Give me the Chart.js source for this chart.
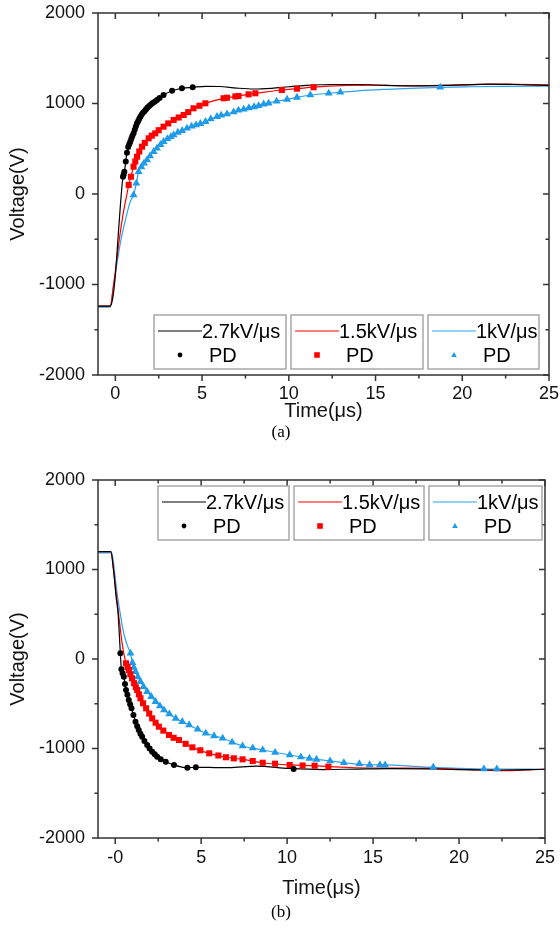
<!DOCTYPE html>
<html>
<head>
<meta charset="utf-8">
<script src="https://cdn.jsdelivr.net/npm/chart.js@4.4.1/dist/chart.umd.min.js"></script>
<style>
  body { margin: 0; background: #fff; width: 560px; height: 935px; position: relative; overflow: hidden; }
  canvas { position: absolute; left: 0; }
  #chartA { top: 0; }
  #chartB { top: 465px; }
  .cap { position: absolute; left: 0; width: 562px; text-align: center; font: 17px "Liberation Serif", "Times New Roman", serif; color: #000; }
</style>
</head>
<body>
<canvas id="chartA" width="560" height="425"></canvas>
<div class="cap" style="top:422px">(a)</div>
<canvas id="chartB" width="560" height="440"></canvas>
<div class="cap" style="top:902px">(b)</div>
<script>
// axis ticks
const xTickValues = [0, 5, 10, 15, 20, 25];
const xTickLabelsA = ['0', '5', '10', '15', '20', '25'];
const xTickLabelsB = ['-0', '5', '10', '15', '20', '25'];
const xMinorTicks = [2.5, 7.5, 12.5, 17.5, 22.5];
const yTickValues = [-2000, -1000, 0, 1000, 2000];
const yTickLabels = ['-2000', '-1000', '0', '1000', '2000'];
const yMinorTicks = [-1500, -500, 500, 1500];
const seriesNames = ['2.7kV/\u03bcs', '1.5kV/\u03bcs', '1kV/\u03bcs'];

// (a) rising edge - voltage curves
const timeA27 = [-1, -0.3, -0.15, 0, 0.15, 0.3, 0.44, 0.52, 0.67, 0.86, 1.05, 1.25, 1.44, 1.7, 2.0, 2.4, 2.78, 3.27, 3.84, 4.46, 5.2, 6.0, 7.0, 8.0, 9.0, 10.0, 11.0, 12.5, 14.0, 15.5, 17.0, 18.5, 20.0, 21.5, 23.0, 25];
const voltA27 = [-1240, -1240, -1150, -900, -500, -100, 191, 246, 456, 578, 671, 781, 854, 925, 983, 1039, 1094, 1141, 1168, 1179, 1190, 1188, 1170, 1160, 1168, 1185, 1200, 1210, 1210, 1200, 1195, 1198, 1205, 1215, 1210, 1200];
const timeA15 = [-1, -0.3, -0.1, 0.1, 0.23, 0.45, 0.67, 0.77, 0.9, 1.05, 1.25, 1.54, 1.92, 2.3, 2.78, 3.36, 3.94, 4.51, 5.19, 6.3, 7.0, 7.6, 8.1, 9.6, 10.5, 11.4, 13.0, 15.0, 17.0, 19.0, 21.0, 22.5, 25];
const voltA15 = [-1240, -1240, -1000, -700, -500, -220, 0, 100, 191, 302, 412, 523, 615, 670, 744, 818, 873, 947, 1002, 1060, 1078, 1101, 1113, 1149, 1164, 1180, 1198, 1202, 1196, 1200, 1212, 1215, 1205];
const timeA1 = [-1, -0.3, -0.1, 0.1, 0.33, 0.6, 0.85, 1.05, 1.21, 1.34, 1.6, 1.83, 2.21, 2.78, 3.36, 4.13, 4.9, 5.86, 6.82, 7.59, 8.55, 9.9, 10.47, 11.24, 12.3, 12.97, 14.0, 15.66, 17.0, 18.73, 20.5, 22.5, 25];
const voltA1 = [-1250, -1250, -1000, -760, -500, -270, -90, -11, 118, 246, 320, 376, 468, 578, 652, 726, 777, 855, 906, 950, 995, 1046, 1068, 1094, 1113, 1124, 1140, 1157, 1168, 1179, 1185, 1190, 1193];

// (a) PD points
const pdTimeA27 = [0.44, 0.48, 0.52, 0.6, 0.67, 0.74, 0.8, 0.86, 0.92, 0.98, 1.05, 1.12, 1.18, 1.25, 1.32, 1.38, 1.44, 1.52, 1.6, 1.68, 1.76, 1.85, 1.95, 2.05, 2.15, 2.27, 2.4, 2.55, 2.78, 3.27, 3.84, 4.46];
const pdVoltA27 = [191, 215, 246, 360, 456, 520, 550, 578, 610, 640, 671, 710, 745, 781, 808, 832, 854, 878, 900, 915, 935, 955, 972, 990, 1005, 1020, 1039, 1060, 1094, 1141, 1168, 1179];
const pdTimeA15 = [0.77, 0.9, 1.05, 1.15, 1.25, 1.38, 1.54, 1.7, 1.92, 2.1, 2.3, 2.5, 2.78, 3.05, 3.36, 3.65, 3.94, 4.2, 4.51, 4.85, 5.19, 6.24, 6.44, 6.92, 7.1, 7.68, 8.07, 9.6, 10.47, 11.43];
const pdVoltA15 = [100, 191, 302, 360, 412, 470, 523, 565, 615, 645, 670, 705, 744, 780, 818, 845, 873, 905, 947, 975, 1002, 1058, 1064, 1078, 1083, 1101, 1113, 1149, 1164, 1180];
const pdTimeA1 = [1.05, 1.21, 1.34, 1.5, 1.65, 1.83, 2.0, 2.21, 2.4, 2.6, 2.78, 3.0, 3.2, 3.36, 3.6, 3.85, 4.13, 4.4, 4.65, 4.9, 5.2, 5.5, 5.86, 6.1, 6.44, 6.82, 7.1, 7.4, 7.7, 8.0, 8.26, 8.55, 8.84, 9.3, 9.9, 10.47, 11.24, 12.3, 12.97, 18.73];
const pdVoltA1 = [-11, 118, 246, 300, 340, 376, 420, 468, 505, 545, 578, 610, 632, 652, 680, 700, 726, 748, 762, 777, 800, 828, 855, 870, 884, 906, 925, 936, 952, 962, 975, 992, 1002, 1025, 1046, 1068, 1094, 1113, 1124, 1179];

// (b) falling edge - voltage curves
const timeB27 = [-1, -0.25, -0.1, 0.05, 0.17, 0.3, 0.36, 0.5, 0.63, 0.79, 0.95, 1.18, 1.37, 1.57, 1.86, 2.15, 2.44, 2.94, 3.42, 4.2, 4.69, 5.5, 6.6, 8.2, 10.1, 12.1, 14, 16, 18, 20, 22, 25];
const voltB27 = [1200, 1200, 1000, 700, 500, 64, -115, -197, -346, -458, -551, -700, -793, -868, -961, -1036, -1092, -1148, -1184, -1214, -1210, -1212, -1214, -1196, -1222, -1235, -1230, -1225, -1228, -1235, -1240, -1232];
const timeB15 = [-1, -0.25, -0.1, 0.05, 0.2, 0.4, 0.63, 0.79, 0.98, 1.28, 1.47, 1.8, 2.15, 2.54, 3.13, 3.71, 4.49, 5.47, 6.44, 7.41, 8.58, 10.15, 11.6, 12.4, 14, 16, 18.5, 20.5, 22.4, 25];
const voltB15 = [1200, 1200, 1000, 750, 500, 180, -48, -123, -216, -346, -439, -551, -663, -756, -849, -905, -987, -1054, -1098, -1121, -1159, -1184, -1192, -1203, -1215, -1220, -1221, -1235, -1248, -1232];
const timeB1 = [-1, -0.2, -0.05, 0.1, 0.3, 0.45, 0.6, 0.75, 0.89, 1.0, 1.18, 1.47, 1.86, 2.35, 2.84, 3.52, 4.3, 5.27, 6.25, 7.41, 8.58, 10.15, 11.3, 11.71, 13.3, 14.8, 15.4, 18.5, 21.45, 22.2, 25];
const voltB1 = [1185, 1185, 1000, 750, 500, 330, 212, 130, 64, -40, -142, -253, -365, -477, -570, -663, -737, -830, -886, -972, -1017, -1073, -1110, -1121, -1159, -1184, -1184, -1210, -1229, -1229, -1232];

// (b) PD points
const pdTimeB27 = [0.3, 0.36, 0.43, 0.5, 0.57, 0.63, 0.71, 0.79, 0.87, 0.95, 1.06, 1.18, 1.28, 1.37, 1.47, 1.57, 1.7, 1.86, 2.0, 2.15, 2.3, 2.44, 2.65, 2.94, 3.42, 4.2, 4.69, 10.38];
const pdVoltB27 = [64, -115, -160, -197, -280, -346, -400, -458, -505, -551, -625, -700, -750, -793, -835, -868, -915, -961, -1000, -1036, -1065, -1092, -1120, -1148, -1184, -1214, -1210, -1229];
const pdTimeB15 = [0.63, 0.72, 0.79, 0.88, 0.98, 1.1, 1.2, 1.28, 1.38, 1.47, 1.62, 1.8, 1.98, 2.15, 2.35, 2.54, 2.8, 3.13, 3.4, 3.71, 4.1, 4.49, 4.95, 5.47, 6.0, 6.44, 6.9, 7.41, 8.0, 8.58, 9.3, 10.15, 10.9, 11.6, 12.4];
const pdVoltB15 = [-48, -90, -123, -170, -216, -270, -315, -346, -395, -439, -495, -551, -610, -663, -712, -756, -800, -849, -880, -905, -948, -987, -1020, -1054, -1078, -1098, -1110, -1121, -1140, -1159, -1170, -1184, -1190, -1192, -1203];
const pdTimeB1 = [0.89, 1.0, 1.08, 1.18, 1.32, 1.47, 1.65, 1.86, 2.1, 2.35, 2.6, 2.84, 3.15, 3.52, 3.9, 4.3, 4.8, 5.27, 5.75, 6.25, 6.8, 7.41, 8.0, 8.58, 9.3, 10.15, 10.8, 11.3, 11.71, 12.5, 13.3, 14.2, 14.8, 15.4, 15.7, 18.5, 21.45, 22.2];
const pdVoltB1 = [64, -40, -95, -142, -200, -253, -310, -365, -420, -477, -525, -570, -615, -663, -700, -737, -785, -830, -860, -886, -930, -972, -995, -1017, -1045, -1073, -1095, -1110, -1121, -1140, -1159, -1172, -1184, -1184, -1186, -1210, -1229, -1229];

const lineColors = ['#000000', '#ff0000', '#2ba3f2'];
const markColors = ['#000000', '#ff0000', '#1e9ae8'];
const markStyles = ['circle', 'rect', 'triangle'];
const markRadius = [3, 4.3, 4.6];
const FONT = '"Liberation Sans", Arial, sans-serif';

Chart.defaults.font.family = FONT;
Chart.defaults.color = '#111';

function pts(ts, vs) {
  return ts.map((t, i) => ({ x: t, y: vs[i] }));
}

// Origin-style frame with ticks: out on left/bottom, in on top/right
const frameTicks = {
  id: 'frameTicks',
  afterDatasetsDraw(chart) {
    const { ctx, chartArea: a, scales: { x, y } } = chart;
    ctx.save();
    ctx.strokeStyle = '#333';
    ctx.lineWidth = 1.5;
    ctx.strokeRect(a.left, a.top, a.right - a.left, a.bottom - a.top);
    ctx.beginPath();
    const xm = (v, len) => {
      const p = x.getPixelForValue(v);
      ctx.moveTo(p, a.bottom); ctx.lineTo(p, a.bottom + len);
      ctx.moveTo(p, a.top); ctx.lineTo(p, a.top + len);
    };
    const ym = (v, len) => {
      const p = y.getPixelForValue(v);
      ctx.moveTo(a.left, p); ctx.lineTo(a.left - len, p);
      ctx.moveTo(a.right, p); ctx.lineTo(a.right - len, p);
    };
    xTickValues.forEach(v => xm(v, 6));
    xMinorTicks.forEach(v => xm(v, 3.5));
    yTickValues.forEach(v => ym(v, 6));
    yMinorTicks.forEach(v => ym(v, 3.5));
    ctx.stroke();
    ctx.restore();
  }
};

function drawMark(ctx, style, x, y, r, color) {
  ctx.fillStyle = color;
  ctx.beginPath();
  if (style === 'circle') {
    ctx.arc(x, y, r, 0, Math.PI * 2);
  } else if (style === 'rect') {
    ctx.rect(x - r, y - r, r * 2, r * 2);
  } else {
    ctx.moveTo(x, y - r * 1.1);
    ctx.lineTo(x + r, y + r * 0.7);
    ctx.lineTo(x - r, y + r * 0.7);
    ctx.closePath();
  }
  ctx.fill();
}

// boxed two-row legends like the Origin plot
const boxLegend = {
  id: 'boxLegend',
  afterDraw(chart, args, opts) {
    const ctx = chart.ctx;
    ctx.save();
    opts.boxes.forEach((b, i) => {
      ctx.fillStyle = '#fff';
      ctx.fillRect(b.x, b.y, b.w, 54);
      ctx.strokeStyle = '#a8a8a8';
      ctx.lineWidth = 1.5;
      ctx.strokeRect(b.x, b.y, b.w, 54);
      ctx.strokeStyle = lineColors[i];
      ctx.lineWidth = 1.2;
      ctx.beginPath();
      ctx.moveTo(b.x + 4, b.y + 16);
      ctx.lineTo(b.x + 48, b.y + 16);
      ctx.stroke();
      drawMark(ctx, markStyles[i], b.x + 26, b.y + 40, i === 0 ? 2.4 : 2.8, markColors[i]);
      ctx.fillStyle = '#000';
      ctx.font = '20px ' + FONT;
      ctx.textBaseline = 'middle';
      ctx.textAlign = 'left';
      ctx.fillText(seriesNames[i], b.x + 48, b.y + 17);
      ctx.fillText('PD', b.x + 55, b.y + 41);
    });
    ctx.restore();
  }
};

function makeChart(id, curves, pds, xLabels, box, pad, xH, titlePad, tickPad) {
  const datasets = [];
  pds.forEach((p, i) => datasets.push({
    data: pts(p[0], p[1]),
    showLine: false,
    pointStyle: markStyles[i],
    pointRadius: markRadius[i],
    pointBackgroundColor: markColors[i],
    pointBorderWidth: 0,
    order: 0
  }));
  curves.forEach((c, i) => datasets.push({
    data: pts(c[0], c[1]),
    showLine: true,
    borderColor: lineColors[i],
    borderWidth: 1.2,
    pointRadius: 0,
    cubicInterpolationMode: 'monotone',
    order: 1
  }));
  return new Chart(document.getElementById(id), {
    type: 'scatter',
    data: { datasets },
    plugins: [frameTicks, boxLegend],
    options: {
      responsive: false,
      animation: false,
      events: [],
      layout: { padding: pad, autoPadding: false },
      plugins: {
        legend: { display: false },
        tooltip: { enabled: false },
        boxLegend: { boxes: box }
      },
      scales: {
        x: {
          type: 'linear', min: -1, max: 25,
          afterBuildTicks: s => { s.ticks = xTickValues.map(v => ({ value: v })); },
          afterFit: s => { s.height = xH; s.paddingLeft = 0; s.paddingRight = 0; },
          grid: { display: false, drawTicks: false },
          border: { display: false },
          ticks: { padding: tickPad, font: { size: 18 }, color: '#111', maxRotation: 0,
                   callback: (v, i) => xLabels[i] },
          title: { display: true, text: 'Time(\u03bcs)', font: { size: 20 }, color: '#111',
                   padding: { top: 0, bottom: titlePad } }
        },
        y: {
          type: 'linear', min: -2000, max: 2000,
          afterBuildTicks: s => { s.ticks = yTickValues.map(v => ({ value: v })); },
          afterFit: s => { s.width = 98; s.paddingTop = 0; s.paddingBottom = 0; },
          grid: { display: false, drawTicks: false },
          border: { display: false },
          ticks: { padding: 13, font: { size: 18 }, color: '#111',
                   callback: (v, i) => yTickLabels[i] },
          title: { display: true, text: 'Voltage(V)', font: { size: 20 }, color: '#111',
                   padding: { top: 6, bottom: 0 } }
        }
      }
    }
  });
}

makeChart('chartA',
  [[timeA27, voltA27], [timeA15, voltA15], [timeA1, voltA1]],
  [[pdTimeA27, pdVoltA27], [pdTimeA15, pdVoltA15], [pdTimeA1, pdVoltA1]],
  xTickLabelsA,
  [{ x: 154, y: 315, w: 132 }, { x: 291, y: 315, w: 132 }, { x: 428, y: 315, w: 111 }],
  { top: 13, right: 11, left: 0, bottom: 0 }, 50, 2, 8);

makeChart('chartB',
  [[timeB27, voltB27], [timeB15, voltB15], [timeB1, voltB1]],
  [[pdTimeB27, pdVoltB27], [pdTimeB15, pdVoltB15], [pdTimeB1, pdVoltB1]],
  xTickLabelsB,
  [{ x: 158, y: 21, w: 131 }, { x: 294, y: 21, w: 130 }, { x: 429, y: 21, w: 113 }],
  { top: 15, right: 15, left: 0, bottom: 0 }, 67, 5, 9);
</script>
</body>
</html>
